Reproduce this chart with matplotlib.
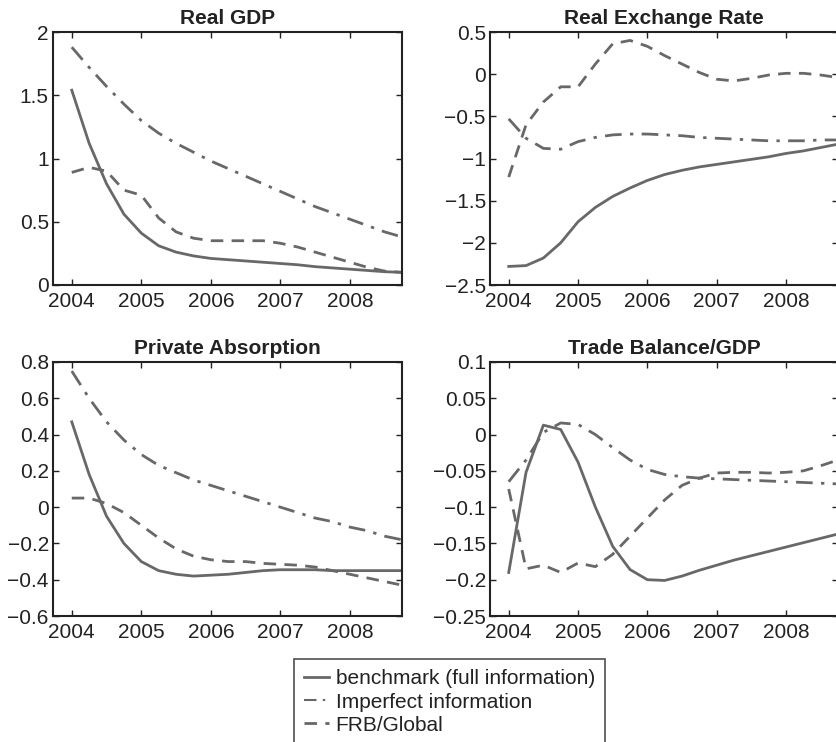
import numpy as np
import matplotlib
matplotlib.use("Agg")
import matplotlib.pyplot as plt
from matplotlib.lines import Line2D

plt.rcParams['font.family'] = ['Liberation Sans', 'DejaVu Sans']

quarters = [2004 + 0.25 * i for i in range(20)]
year_ticks = [2004, 2005, 2006, 2007, 2008]

gdp_bench = [1.54, 1.12, 0.80, 0.56, 0.41, 0.31, 0.26, 0.23, 0.21, 0.20,
             0.19, 0.18, 0.17, 0.16, 0.145, 0.135, 0.125, 0.115, 0.105, 0.10]
gdp_imperf = [1.88, 1.72, 1.57, 1.43, 1.30, 1.20, 1.12, 1.05, 0.98, 0.92,
              0.86, 0.80, 0.74, 0.68, 0.62, 0.57, 0.52, 0.47, 0.42, 0.38]
gdp_frb = [0.89, 0.93, 0.90, 0.75, 0.71, 0.53, 0.42, 0.37, 0.35, 0.35,
           0.35, 0.35, 0.33, 0.30, 0.26, 0.22, 0.18, 0.14, 0.11, 0.10]

rer_bench = [-2.28, -2.27, -2.18, -2.00, -1.75, -1.58, -1.45, -1.35, -1.26, -1.19,
             -1.14, -1.10, -1.07, -1.04, -1.01, -0.98, -0.94, -0.91, -0.87, -0.83]
rer_imperf = [-0.53, -0.76, -0.88, -0.89, -0.80, -0.75, -0.72, -0.71, -0.71, -0.72,
              -0.73, -0.75, -0.76, -0.77, -0.78, -0.79, -0.79, -0.79, -0.78, -0.78]
rer_frb = [-1.22, -0.60, -0.33, -0.15, -0.15, 0.12, 0.36, 0.40, 0.33, 0.22,
           0.12, 0.02, -0.06, -0.08, -0.05, -0.01, 0.01, 0.01, -0.01, -0.04]

abs_bench = [0.47, 0.18, -0.05, -0.20, -0.30, -0.35, -0.37, -0.38, -0.375, -0.37,
             -0.36, -0.35, -0.345, -0.345, -0.345, -0.35, -0.35, -0.35, -0.35, -0.35]
abs_imperf = [0.75, 0.60, 0.47, 0.37, 0.29, 0.23, 0.19, 0.15, 0.12, 0.09,
              0.06, 0.03, 0.00, -0.03, -0.06, -0.08, -0.11, -0.13, -0.16, -0.18]
abs_frb = [0.05, 0.05, 0.02, -0.03, -0.10, -0.17, -0.23, -0.27, -0.29, -0.30,
           -0.30, -0.31, -0.315, -0.32, -0.33, -0.35, -0.37, -0.39, -0.41, -0.43]

tb_bench = [-0.19, -0.052, 0.013, 0.007, -0.038, -0.10, -0.154, -0.186, -0.200, -0.201,
            -0.195, -0.187, -0.180, -0.173, -0.167, -0.161, -0.155, -0.149, -0.143, -0.137]
tb_imperf = [-0.065, -0.035, 0.003, 0.016, 0.014, 0.0, -0.018, -0.035, -0.048, -0.055,
             -0.058, -0.060, -0.061, -0.062, -0.063, -0.064, -0.065, -0.066, -0.067, -0.068]
tb_frb = [-0.075, -0.185, -0.180, -0.190, -0.177, -0.182, -0.165, -0.140, -0.115, -0.090,
          -0.070, -0.060, -0.053, -0.052, -0.052, -0.053, -0.052, -0.050, -0.043, -0.035]

titles = ["Real GDP", "Real Exchange Rate", "Private Absorption", "Trade Balance/GDP"]
ylims = [(0, 2), (-2.5, 0.5), (-0.6, 0.8), (-0.25, 0.1)]
yticks = [[0, 0.5, 1, 1.5, 2],
          [-2.5, -2, -1.5, -1, -0.5, 0, 0.5],
          [-0.6, -0.4, -0.2, 0, 0.2, 0.4, 0.6, 0.8],
          [-0.25, -0.2, -0.15, -0.1, -0.05, 0, 0.05, 0.1]]
ytick_labels = [["0", "0.5", "1", "1.5", "2"],
                ["\u22122.5", "\u22122", "\u22121.5", "\u22121", "\u22120.5", "0", "0.5"],
                ["\u22120.6", "\u22120.4", "\u22120.2", "0", "0.2", "0.4", "0.6", "0.8"],
                ["\u22120.25", "\u22120.2", "\u22120.15", "\u22120.1", "\u22120.05", "0", "0.05", "0.1"]]
series = [(gdp_bench, gdp_imperf, gdp_frb),
          (rer_bench, rer_imperf, rer_frb),
          (abs_bench, abs_imperf, abs_frb),
          (tb_bench, tb_imperf, tb_frb)]

W, H = 837, 742
fig = plt.figure(figsize=(W / 100, H / 100), dpi=100)

boxes = [(53, 32, 402, 285), (490, 32, 838, 285),
         (53, 362, 402, 616), (490, 362, 838, 616)]

col = '#686868'
dashdot = (0, (6, 3, 1.2, 3))
dashed = (0, (4.5, 3))
FS = 15

for i, (l, t, r, b) in enumerate(boxes):
    ax = fig.add_axes([l / W, 1 - b / H, (r - l) / W, (b - t) / H])
    bench, imperf, frb = series[i]
    ax.plot(quarters, bench, color=col, lw=2.0, ls='-')
    ax.plot(quarters, imperf, color=col, lw=2.0, ls=dashdot)
    ax.plot(quarters, frb, color=col, lw=2.0, ls=dashed)
    ax.set_xlim(2003.73, 2008.75)
    ax.set_ylim(*ylims[i])
    ax.set_xticks(year_ticks)
    ax.set_xticklabels([str(y) for y in year_ticks])
    ax.set_yticks(yticks[i])
    ax.set_yticklabels(ytick_labels[i])
    ax.tick_params(direction='in', top=True, right=True, length=4, width=1,
                   labelsize=FS, colors='#222222', pad=3)
    ax.tick_params(axis='x', pad=5)
    for s in ax.spines.values():
        s.set_linewidth(1.5)
        s.set_color('#222222')
    ax.set_title(titles[i], fontsize=FS, fontweight='bold', pad=6, color='#222222')

handles = [Line2D([], [], color=col, lw=2.0, ls='-'),
           Line2D([], [], color=col, lw=1.5, ls=dashdot),
           Line2D([], [], color=col, lw=2.0, ls=dashed)]
labels = ["benchmark (full information)", "Imperfect information", "FRB/Global"]
leg = fig.legend(handles, labels, loc='upper left',
                 bbox_to_anchor=(294 / W, 1 - 659 / H), fontsize=FS,
                 handlelength=1.2, handletextpad=0.3, labelspacing=0.2,
                 borderpad=0.5, borderaxespad=0, fancybox=False,
                 frameon=True, edgecolor='#222222')
leg.get_frame().set_linewidth(1.2)
for txt in leg.get_texts():
    txt.set_color('#222222')

fig.savefig("out.png", dpi=100)
